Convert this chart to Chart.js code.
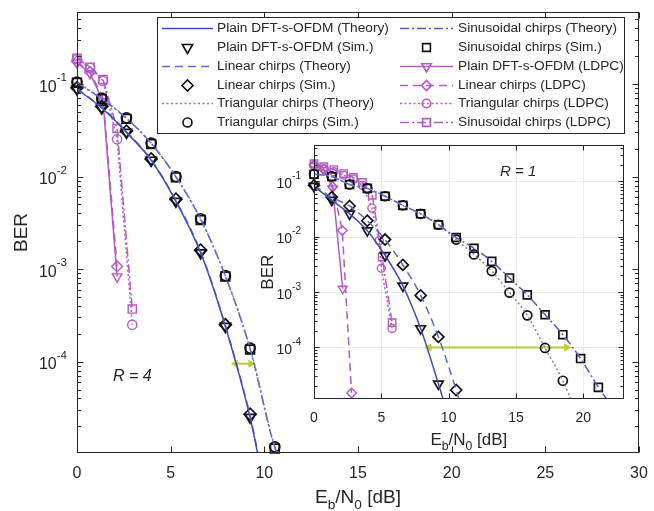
<!DOCTYPE html>
<html>
<head>
<meta charset="utf-8">
<script src="https://cdn.jsdelivr.net/npm/chart.js@4/dist/chart.umd.min.js"></script>
<style>
  body { margin: 0; background: #fff; }
  #wrap { position: relative; width: 654px; height: 511px; }
  #main { position: absolute; left: 0; top: 0; }
  #inset { position: absolute; left: 258px; top: 138px; }
</style>
</head>
<body>
<div id="wrap">
  <canvas id="main" width="654" height="511"></canvas>
  <canvas id="inset" width="373" height="313"></canvas>
</div>
<script>
// ---------- R = 4 (main axes) ----------
const snrR4 = [0, 1.32, 2.64, 3.96, 5.28, 6.6, 7.92, 9.24, 10.56];
const plainSimR4 = [0.088, 0.055, 0.030, 0.015, 0.0054, 0.0015, 2.4e-4, 2.5e-5];
const linearSimR4 = [0.091, 0.057, 0.031, 0.0155, 0.0057, 0.0016, 2.5e-4, 2.7e-5];
const triSimR4 = [0.105, 0.070, 0.043, 0.023, 0.010, 0.0035, 8.5e-4, 1.4e-4, 1.2e-5];
const sinSimR4 = [0.103, 0.069, 0.042, 0.0225, 0.0098, 0.0034, 8.3e-4, 1.35e-4, 1.15e-5];

const thXR4a = [0, 1.32, 2.64, 3.96, 5.28, 6.6, 7.92, 9.24, 9.65];
const plainThR4 = [0.088, 0.055, 0.030, 0.015, 0.0054, 0.0015, 2.4e-4, 2.5e-5, 1e-5];
const linearThR4 = [0.089, 0.056, 0.0305, 0.0152, 0.0055, 0.00155, 2.45e-4, 2.6e-5, 1.05e-5];
const thXR4b = [0, 1.32, 2.64, 3.96, 5.28, 6.6, 7.92, 9.24, 10.56, 10.72];
const triThR4 = [0.104, 0.070, 0.043, 0.023, 0.010, 0.0035, 8.5e-4, 1.4e-4, 1.2e-5, 1e-5];
const sinThR4 = [0.103, 0.069, 0.0425, 0.0228, 0.0099, 0.00345, 8.4e-4, 1.37e-4, 1.18e-5, 1e-5];

const ldpcXR4 = [0, 0.7, 1.39, 2.14, 2.95];
const plainLdpcR4 = [0.17, 0.13, 0.065, 8.3e-4];
const linearLdpcR4 = [0.175, 0.135, 0.07, 1.07e-3];
const triLdpcR4 = [0.186, 0.149, 0.108, 0.0253, 2.5e-4];
const sinLdpcR4 = [0.19, 0.152, 0.112, 0.033, 3.7e-4];

const gapXR4 = [8.47, 9.28];
const gapYR4 = [9.5e-5, 9.5e-5];

// ---------- R = 1 (inset axes) ----------
const snrR1 = [0, 1.32, 2.64, 3.96, 5.28, 6.6, 7.92, 9.24, 10.56, 11.88, 13.2, 14.52, 15.84, 17.16, 18.48, 19.8, 21.12];
const plainSimR1 = [0.082, 0.046, 0.026, 0.0129, 0.0046, 0.0013, 2.2e-4, 2.2e-5];
const linearSimR1 = [0.085, 0.052, 0.036, 0.0195, 0.0089, 0.0031, 8.7e-4, 1.55e-4, 1.7e-5];
const triSimR1 = [0.135, 0.123, 0.088, 0.075, 0.054, 0.037, 0.026, 0.0165, 0.0089, 0.0048, 0.0024, 9.8e-4, 3.8e-4, 9.8e-5, 2.5e-5];
const sinSimR1 = [0.135, 0.123, 0.088, 0.075, 0.054, 0.037, 0.026, 0.0165, 0.0097, 0.0062, 0.0036, 0.0018, 8.9e-4, 3.9e-4, 1.7e-4, 6.3e-5, 1.9e-5];

const thXR1a = [0, 1.32, 2.64, 3.96, 5.28, 6.6, 7.92, 9.24, 9.57];
const plainThR1 = [0.082, 0.046, 0.026, 0.0129, 0.0046, 0.0013, 2.2e-4, 2.2e-5, 1.2e-5];
const thXR1b = [0, 1.32, 2.64, 3.96, 5.28, 6.6, 7.92, 9.24, 10.56, 10.75];
const linearThR1 = [0.085, 0.052, 0.036, 0.0195, 0.0089, 0.0031, 8.7e-4, 1.55e-4, 1.7e-5, 1.2e-5];
const thXR1c = [0, 1.32, 2.64, 3.96, 5.28, 6.6, 7.92, 9.24, 10.56, 11.88, 13.2, 14.52, 15.84, 17.16, 18.48, 19.05];
const triThR1 = [0.135, 0.123, 0.088, 0.075, 0.054, 0.037, 0.026, 0.0165, 0.0089, 0.0048, 0.0024, 9.8e-4, 3.8e-4, 9.8e-5, 2.5e-5, 1.2e-5];
const thXR1d = [0, 1.32, 2.64, 3.96, 5.28, 6.6, 7.92, 9.24, 10.56, 11.88, 13.2, 14.52, 15.84, 17.16, 18.48, 19.8, 21.12, 21.7];
const sinThR1 = [0.135, 0.123, 0.088, 0.075, 0.054, 0.037, 0.026, 0.0165, 0.0097, 0.0062, 0.0036, 0.0018, 8.9e-4, 3.9e-4, 1.7e-4, 6.3e-5, 1.9e-5, 1.2e-5];

const plainLdpcXR1 = [0, 0.73, 1.39, 2.13];
const plainLdpcR1 = [0.19, 0.16, 0.075, 1.15e-3];
const linearLdpcXR1 = [0, 0.73, 1.39, 2.1, 2.79];
const linearLdpcR1 = [0.2, 0.165, 0.08, 0.013, 1.5e-5];
const triLdpcXR1 = [0, 0.73, 1.47, 2.2, 2.93, 3.6, 4.3, 4.84, 5.0, 5.8];
const triLdpcR1 = [0.19, 0.17, 0.15, 0.13, 0.11, 0.085, 0.033, 0.0085, 0.0027, 2.2e-4];
const sinLdpcXR1 = [0, 0.73, 1.47, 2.2, 2.93, 3.6, 4.33, 5.06, 5.8];
const sinLdpcR1 = [0.21, 0.185, 0.164, 0.139, 0.118, 0.096, 0.056, 0.0043, 2.8e-4];

const gapXR1 = [8.54, 18.76];
const gapYR1 = [1e-4, 1e-4];

// ticks
const xTicksR4 = [0, 5, 10, 15, 20, 25, 30];
const xTicksR1 = [0, 5, 10, 15, 20];
const decades = [1e-5, 1e-4, 1e-3, 1e-2, 1e-1];

// ---------- styles ----------
const FONT = '"Liberation Sans", Arial, Helvetica, sans-serif';
const INK = '#262626';
const BLUE = '#3f4fb8', BLUE_DASH = '#5a6acc', BLUE_DOT = '#7d7ad3', BLUE_DD = '#4c5cc2';
const PURPLE = '#b25bc5', ARROW = '#c0ca36';
const DASH = [8, 5], DOT = [2, 2.5], DASHDOT = [9, 3, 2, 3];

function pts(xs, ys) { return ys.map((v, i) => ({ x: xs[i], y: v })); }

function theory(xs, ys, color, dash) {
  return { data: pts(xs, ys), borderColor: color, borderWidth: 1.5, borderDash: dash,
           pointRadius: 0, cubicInterpolationMode: 'monotone', fill: false };
}
function sim(xs, ys, style, r, rot) {
  return { data: pts(xs, ys), showLine: false, pointStyle: style, pointRadius: r, pointRotation: rot || 0,
           pointBorderColor: '#111', pointBorderWidth: 1.7, pointBackgroundColor: 'rgba(0,0,0,0)', clip: 10 };
}
function ldpc(xs, ys, dash, style, r, rot) {
  return { data: pts(xs, ys), borderColor: PURPLE, borderWidth: 1.5, borderDash: dash,
           pointStyle: style, pointRadius: r, pointRotation: rot || 0,
           pointBorderColor: PURPLE, pointBorderWidth: 1.4, pointBackgroundColor: 'rgba(0,0,0,0)', clip: 10 };
}
function gap(xs, ys) {
  return { data: pts(xs, ys), borderColor: ARROW, borderWidth: 2, pointStyle: 'triangle', pointRadius: 4,
           pointRotation: [270, 90], pointBackgroundColor: ARROW, pointBorderColor: ARROW, pointBorderWidth: 1 };
}

function drawPow(ctx, exp, xRight, yTick, size) {
  const sup = '-' + exp, supSize = size * 0.72;
  ctx.font = supSize + 'px ' + FONT;
  const sw = ctx.measureText(sup).width;
  ctx.font = size + 'px ' + FONT;
  const bw = ctx.measureText('10').width;
  ctx.textAlign = 'left'; ctx.textBaseline = 'middle';
  ctx.fillText('10', xRight - sw - bw, yTick + size * 0.2);
  ctx.font = supSize + 'px ' + FONT;
  ctx.fillText(sup, xRight - sw, yTick - size * 0.38);
}

function drawEbN0(ctx, cx, cy, size) {
  const parts = [['E', 0], ['b', 1], ['/N', 0], ['0', 1], [' [dB]', 0]];
  const sub = size * 0.72;
  let w = 0;
  parts.forEach(p => { ctx.font = (p[1] ? sub : size) + 'px ' + FONT; w += ctx.measureText(p[0]).width; });
  let x = cx - w / 2;
  ctx.textAlign = 'left'; ctx.textBaseline = 'middle';
  parts.forEach(p => {
    ctx.font = (p[1] ? sub : size) + 'px ' + FONT;
    ctx.fillText(p[0], x, cy + (p[1] ? size * 0.38 : 0));
    x += ctx.measureText(p[0]).width;
  });
}

function framePlugin(o) {
  return {
    id: 'frame',
    beforeDatasetsDraw(chart) {
      const { ctx, chartArea: a, scales: { x, y } } = chart;
      ctx.save();
      // white plot box (the inset hides whatever lies under it)
      ctx.fillStyle = '#fff';
      ctx.fillRect(a.left, a.top, a.right - a.left, a.bottom - a.top);
      if (o.grid) {
        ctx.strokeStyle = o.grid; ctx.lineWidth = 1;
        o.xTicks.forEach(v => {
          const p = Math.round(x.getPixelForValue(v)) + 0.5;
          ctx.beginPath(); ctx.moveTo(p, a.top); ctx.lineTo(p, a.bottom); ctx.stroke();
        });
        decades.forEach(v => {
          const p = Math.round(y.getPixelForValue(v)) + 0.5;
          if (p < a.top || p > a.bottom) return;
          ctx.beginPath(); ctx.moveTo(a.left, p); ctx.lineTo(a.right, p); ctx.stroke();
        });
      }
      ctx.restore();
    },
    afterDraw(chart) {
      const { ctx, chartArea: a, scales: { x, y } } = chart;
      const seg = (x1, y1, x2, y2) => { ctx.beginPath(); ctx.moveTo(x1, y1); ctx.lineTo(x2, y2); ctx.stroke(); };
      ctx.save();
      ctx.strokeStyle = INK; ctx.lineWidth = 1;
      const L = Math.round(a.left) + 0.5, R = Math.round(a.right) - 0.5;
      const T = Math.round(a.top) + 0.5, B = Math.round(a.bottom) - 0.5;
      ctx.strokeRect(L, T, R - L, B - T);
      o.xTicks.forEach(v => {
        const p = Math.round(x.getPixelForValue(v)) + 0.5;
        seg(p, B, p, B - o.tl); seg(p, T, p, T + o.tl);
      });
      decades.forEach(d => {
        for (let m = 1; m <= 9; m++) {
          const p = Math.round(y.getPixelForValue(d * m)) + 0.5;
          if (p < T || p > B) continue;
          const len = m === 1 ? o.tl : o.tl * 0.6;
          seg(L, p, L + len, p); seg(R, p, R - len, p);
        }
      });
      // tick labels
      ctx.fillStyle = INK;
      ctx.font = o.tickFont + 'px ' + FONT;
      ctx.textAlign = 'center'; ctx.textBaseline = 'middle';
      o.xTicks.forEach(v => ctx.fillText(String(v), x.getPixelForValue(v), a.bottom + o.xLabGap));
      decades.forEach(v => {
        if (v < o.yMin || v > o.yMax) return;
        drawPow(ctx, Math.round(-Math.log10(v)), a.left - o.yLabGap, y.getPixelForValue(v), o.tickFont);
      });
      // axis titles
      drawEbN0(ctx, (a.left + a.right) / 2, a.bottom + o.xTitleGap, o.titleFont);
      ctx.save();
      ctx.translate(o.berX, (a.top + a.bottom) / 2);
      ctx.rotate(-Math.PI / 2);
      ctx.font = o.titleFont + 'px ' + FONT;
      ctx.textAlign = 'center'; ctx.textBaseline = 'middle';
      ctx.fillText('BER', 0, 0);
      ctx.restore();
      // R = n
      ctx.font = 'italic ' + o.rFont + 'px ' + FONT;
      ctx.textAlign = 'left'; ctx.textBaseline = 'middle';
      ctx.fillText(o.rText, o.rX, o.rY);
      if (o.extra) o.extra(ctx);
      ctx.restore();
    }
  };
}

function makeChart(id, sets, o) {
  return new Chart(document.getElementById(id), {
    type: 'line',
    data: { datasets: sets },
    options: {
      responsive: false, animation: false, events: [],
      layout: { padding: o.pad },
      plugins: { legend: { display: false }, tooltip: { enabled: false } },
      scales: {
        x: {
          type: 'linear', min: 0, max: o.xMax,
          ticks: { display: false }, grid: { display: false }, border: { display: false },
          afterBuildTicks: s => { s.ticks = o.xTicks.map(v => ({ value: v })); },
          afterFit: s => { s.height = o.xH; }
        },
        y: {
          type: 'logarithmic', min: o.yMin, max: o.yMax,
          ticks: { display: false }, grid: { display: false }, border: { display: false },
          afterBuildTicks: s => { s.ticks = decades.map(v => ({ value: v })); },
          afterFit: s => { s.width = o.yW; }
        }
      }
    },
    plugins: [framePlugin(o)]
  });
}

// ---------- legend (drawn on the main axes) ----------
const legendCol1 = [
  { text: 'Plain DFT-s-OFDM (Theory)', line: BLUE, dash: [] },
  { text: 'Plain DFT-s-OFDM (Sim.)', marker: 'triangle', rot: 180, r: 6, mc: '#111' },
  { text: 'Linear chirps (Theory)', line: BLUE_DASH, dash: DASH },
  { text: 'Linear chirps (Sim.)', marker: 'rectRot', r: 5.5, mc: '#111' },
  { text: 'Triangular chirps (Theory)', line: BLUE_DOT, dash: DOT },
  { text: 'Triangular chirps (Sim.)', marker: 'circle', r: 4.5, mc: '#111' }
];
const legendCol2 = [
  { text: 'Sinusoidal chirps (Theory)', line: BLUE_DD, dash: DASHDOT },
  { text: 'Sinusoidal chirps (Sim.)', marker: 'rect', r: 5.5, mc: '#111' },
  { text: 'Plain DFT-s-OFDM (LDPC)', line: PURPLE, dash: [], marker: 'triangle', rot: 180, r: 5.5, mc: PURPLE },
  { text: 'Linear chirps (LDPC)', line: PURPLE, dash: DASH, marker: 'rectRot', r: 5, mc: PURPLE },
  { text: 'Triangular chirps (LDPC)', line: PURPLE, dash: DOT, marker: 'circle', r: 4.2, mc: PURPLE },
  { text: 'Sinusoidal chirps (LDPC)', line: PURPLE, dash: DASHDOT, marker: 'rect', r: 5.5, mc: PURPLE }
];
const legendRows = [28, 47, 66, 85, 103, 122];

function drawLegend(ctx) {
  ctx.save();
  ctx.fillStyle = '#fff'; ctx.strokeStyle = INK; ctx.lineWidth = 1;
  ctx.fillRect(157, 17, 468, 116);
  ctx.strokeRect(157.5, 17.5, 467, 116);
  [[legendCol1, 162, 213, 217], [legendCol2, 400, 453, 458]].forEach(([items, x1, x2, tx]) => {
    items.forEach((it, i) => {
      const yy = legendRows[i] + 0.5;
      if (it.line) {
        ctx.strokeStyle = it.line; ctx.lineWidth = 1.5; ctx.setLineDash(it.dash);
        ctx.beginPath(); ctx.moveTo(x1, yy); ctx.lineTo(x2, yy); ctx.stroke();
        ctx.setLineDash([]);
      }
      if (it.marker) {
        ctx.strokeStyle = it.mc; ctx.fillStyle = 'rgba(0,0,0,0)'; ctx.lineWidth = 1.6;
        Chart.helpers.drawPoint(ctx, { pointStyle: it.marker, rotation: it.rot || 0, radius: it.r, borderWidth: 1.6 }, (x1 + x2) / 2, yy);
      }
      ctx.fillStyle = INK;
      ctx.font = '13.7px ' + FONT; ctx.textAlign = 'left'; ctx.textBaseline = 'middle';
      ctx.fillText(it.text, tx, legendRows[i]);
    });
  });
  ctx.restore();
}

// ---------- charts ----------
makeChart('main', [
  theory(thXR4a, plainThR4, BLUE, []),
  theory(thXR4a, linearThR4, BLUE_DASH, DASH),
  theory(thXR4b, triThR4, BLUE_DOT, DOT),
  theory(thXR4b, sinThR4, BLUE_DD, DASHDOT),
  sim(snrR4, plainSimR4, 'triangle', 6, 180),
  sim(snrR4, linearSimR4, 'rectRot', 6),
  sim(snrR4, triSimR4, 'circle', 5),
  sim(snrR4, sinSimR4, 'rect', 6.2),
  ldpc(ldpcXR4, plainLdpcR4, [], 'triangle', 5.5, 180),
  ldpc(ldpcXR4, linearLdpcR4, DASH, 'rectRot', 5.5),
  ldpc(ldpcXR4, triLdpcR4, DOT, 'circle', 4.6),
  ldpc(ldpcXR4, sinLdpcR4, DASHDOT, 'rect', 5.8),
  gap(gapXR4, gapYR4)
], {
  pad: { top: 12, right: 15, left: 0, bottom: 0 }, yW: 77, xH: 58,
  xMax: 30, xTicks: xTicksR4, yMin: 1.03e-5, yMax: 0.6,
  tl: 6, tickFont: 16, titleFont: 19, xLabGap: 21, yLabGap: 10, xTitleGap: 45, berX: 22,
  rFont: 16, rText: 'R = 4', rX: 113, rY: 377,
  extra: drawLegend
});

makeChart('inset', [
  theory(thXR1a, plainThR1, BLUE, []),
  theory(thXR1b, linearThR1, BLUE_DASH, DASH),
  theory(thXR1c, triThR1, BLUE_DOT, DOT),
  theory(thXR1d, sinThR1, BLUE_DD, DASHDOT),
  sim(snrR1, plainSimR1, 'triangle', 5.5, 180),
  sim(snrR1, linearSimR1, 'rectRot', 5.5),
  sim(snrR1, triSimR1, 'circle', 4.5),
  sim(snrR1, sinSimR1, 'rect', 5.6),
  ldpc(plainLdpcXR1, plainLdpcR1, [], 'triangle', 5, 180),
  ldpc(linearLdpcXR1, linearLdpcR1, DASH, 'rectRot', 4.8),
  ldpc(triLdpcXR1, triLdpcR1, DOT, 'circle', 4),
  ldpc(sinLdpcXR1, sinLdpcR1, DASHDOT, 'rect', 5.2),
  gap(gapXR1, gapYR1)
], {
  pad: { top: 3, right: 3, left: 0, bottom: 0 }, yW: 56, xH: 52,
  xMax: 23, xTicks: xTicksR1, yMin: 1.17e-5, yMax: 0.45, grid: '#ebebeb',
  tl: 5, tickFont: 14, titleFont: 17, xLabGap: 19, yLabGap: 13, xTitleGap: 41, berX: 10,
  rFont: 15, rText: 'R = 1', rX: 242, rY: 34
});
</script>
</body>
</html>
